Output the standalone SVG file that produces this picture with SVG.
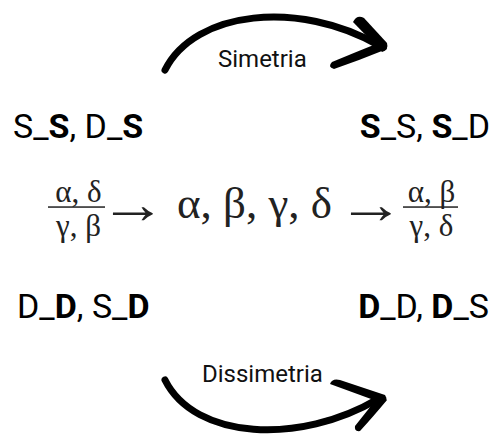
<svg xmlns="http://www.w3.org/2000/svg" width="499" height="434" viewBox="0 0 499 434">
<style>
.lbl{font-family:Roboto,"Liberation Sans",sans-serif;font-size:34px;fill:#000}
.b{font-weight:bold}
.el{font-family:Roboto,"Liberation Sans",sans-serif;font-size:24px;fill:#111}
.m{font-family:"Liberation Serif","DejaVu Serif",serif;fill:#222}
.big{font-size:45px}
.sm{font-size:31px}
.arr{font-family:"Liberation Serif","DejaVu Serif",serif;fill:#222;font-size:56px}
.shaft{fill:none;stroke:#000;stroke-width:7;stroke-linecap:round}
.head{fill:#000}
</style>
<rect width="499" height="434" fill="#fff"/>
<g id="node-top-left"><text class="lbl" x="13" y="138">S_<tspan class="b">S</tspan>, D_<tspan class="b">S</tspan></text></g>
<g id="node-top-right"><text class="lbl" x="490" y="138" text-anchor="end"><tspan class="b">S</tspan>_S, <tspan class="b">S</tspan>_D</text></g>
<g id="node-bottom-left"><text class="lbl" x="17" y="318">D_<tspan class="b">D</tspan>, S_<tspan class="b">D</tspan></text></g>
<g id="node-bottom-right"><text class="lbl" x="489" y="318" text-anchor="end"><tspan class="b">D</tspan>_D, <tspan class="b">D</tspan>_S</text></g>
<g id="node-formula">
<text class="m sm" x="78.5" y="202" text-anchor="middle">α, δ</text>
<rect x="48" y="206.3" width="57" height="1.5" fill="#222"/>
<text class="m sm" x="78.5" y="236" text-anchor="middle">γ, β</text>
<text class="arr" x="0" y="223" text-anchor="middle" transform="translate(133,0) scale(1.2,1)">→</text>
<text class="m big" x="177" y="218">α, β, γ, δ</text>
<text class="arr" x="0" y="223" text-anchor="middle" transform="translate(371,0) scale(1.2,1)">→</text>
<text class="m sm" x="431.5" y="202" text-anchor="middle">α, β</text>
<rect x="403" y="206.3" width="55" height="1.5" fill="#222"/>
<text class="m sm" x="431.5" y="236" text-anchor="middle">γ, δ</text>
</g>
<g id="connectors">
<g id="edge-simetria">
<path class="shaft" d="M165,70 C195,10 300,0 378,45"/>
<path class="head" d="M353,22 Q357,14 364,18 L387,43 Q389,50 382,52 Z"/>
<path class="head" d="M381,42 L387,49 Q360,60 334,69 Q327,67 332,62 Q356,52 381,42 Z"/>
<text class="el" x="218" y="67">Simetria</text>
</g>
<g id="edge-dissimetria">
<path class="shaft" d="M165,380 C195,440 300,445 378,399"/>
<path class="head" d="M330,384 Q332,378 340,380 L385,395 Q389,401 382,403 Z"/>
<path class="head" d="M380,394 L387,400 Q372,418 360,431 Q354,432 355,426 Q368,410 380,394 Z"/>
<text class="el" x="202" y="382">Dissimetria</text>
</g>
</g>
</svg>
